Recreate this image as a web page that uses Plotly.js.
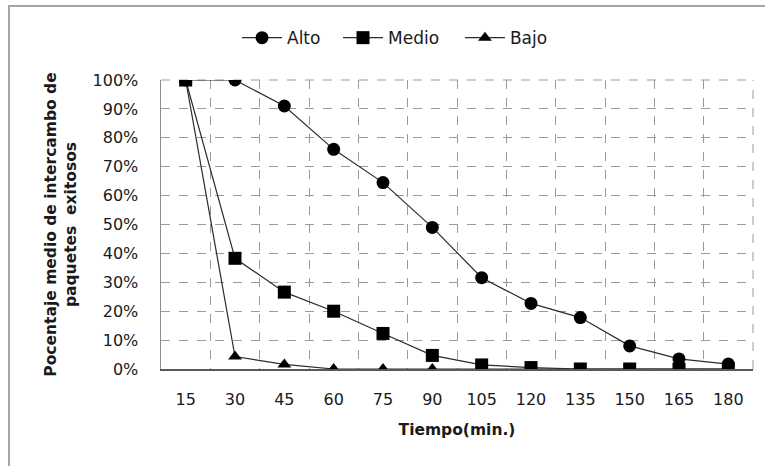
<!DOCTYPE html>
<html>
<head>
<meta charset="utf-8">
<script src="https://cdn.plot.ly/plotly-3.0.1.min.js"></script>
<style>
  html, body { margin: 0; padding: 0; background: #fff; overflow: hidden; }
  #frame { position: absolute; left: 8px; top: 5px; width: 800px; height: 500px;
           border-left: 2px solid #a6a6a6; border-top: 2px solid #a6a6a6; }
  #chart { position: absolute; left: 0; top: 0; width: 765px; height: 466px; }
</style>
</head>
<body>
<div id="frame"></div>
<div id="chart"></div>
<script>
const categories = ["15","30","45","60","75","90","105","120","135","150","165","180"];
const alto  = [1.00, 1.00, 0.91, 0.76, 0.645, 0.49, 0.316, 0.227, 0.178, 0.08, 0.035, 0.017];
const medio = [1.00, 0.383, 0.266, 0.20, 0.123, 0.047, 0.014, 0.005, 0, 0, 0, 0];
const bajo  = [1.00, 0.043, 0.016, 0, 0, 0, 0, 0, 0, 0, 0, 0];
const seriesNames = ["Alto", "Medio", "Bajo"];
const yTickVals = [0, 0.1, 0.2, 0.3, 0.4, 0.5, 0.6, 0.7, 0.8, 0.9, 1.0];
const yTickText = ["0%","10%","20%","30%","40%","50%","60%","70%","80%","90%","100%"];

const lineStyle = {color: "#2b2b2b", width: 1.2};
const traces = [
  {x: categories, y: alto, name: seriesNames[0], legend: "legend", type: "scatter", mode: "lines+markers",
   line: lineStyle, marker: {symbol: "circle", size: 13, color: "#000"}},
  {x: categories, y: bajo, name: seriesNames[2], legend: "legend3", type: "scatter", mode: "lines+markers",
   line: lineStyle, marker: {symbol: "triangle-up", size: 12, color: "#000"}},
  {x: categories, y: medio, name: seriesNames[1], legend: "legend2", type: "scatter", mode: "lines+markers",
   line: lineStyle, marker: {symbol: "square", size: 13, color: "#000"}}
];

const font = {family: "'DejaVu Sans', sans-serif", color: "#1a1a1a"};
function legendAt(x) {
  return {orientation: "h", x: x, xanchor: "left", y: 1.145, yanchor: "middle",
          itemwidth: 40, font: Object.assign({size: 17}, font), bgcolor: "rgba(0,0,0,0)"};
}
const gridStyle = {color: "#9a9a9a", width: 1, dash: "dash"};
const layout = {
  width: 765, height: 466,
  margin: {l: 161, r: 12, t: 80, b: 97},
  paper_bgcolor: "rgba(0,0,0,0)",
  plot_bgcolor: "#fff",
  font: Object.assign({size: 16}, font),
  showlegend: true,
  legend: legendAt(0.1284),
  legend2: legendAt(0.299),
  legend3: legendAt(0.505),
  shapes: [
    {type: "line", xref: "paper", yref: "paper", x0: 0, x1: 1, y0: 1, y1: 1, line: gridStyle, layer: "below"},
    {type: "line", xref: "paper", yref: "paper", x0: 1, x1: 1, y0: 0, y1: 1, line: gridStyle, layer: "below"}
  ],
  xaxis: {
    type: "category", range: [-0.5, 11.5], tickson: "boundaries",
    showgrid: true, gridcolor: "#9a9a9a", griddash: "dash", gridwidth: 1,
    showline: true, linecolor: "#595959", linewidth: 1.5,
    ticks: "", ticklabelstandoff: 15,
    tickfont: Object.assign({size: 16}, font),
    title: {text: "<b>Tiempo(min.)</b>", font: Object.assign({size: 15.5}, font), standoff: 16}
  },
  yaxis: {
    range: [0, 1.0], tickvals: yTickVals, ticktext: yTickText,
    showgrid: true, gridcolor: "#9a9a9a", griddash: "dash", gridwidth: 1,
    zeroline: true, zerolinecolor: "#595959", zerolinewidth: 1.5,
    showline: true, linecolor: "#8c8c8c", linewidth: 1.5,
    ticks: "", ticklabelstandoff: 18,
    tickfont: Object.assign({size: 16}, font),
    title: {text: "<b>Pocentaje medio de intercambo de</b><br><b>paquetes  exitosos</b>",
            font: Object.assign({size: 15.5}, font), standoff: 12}
  }
};

Plotly.newPlot("chart", traces, layout, {displayModeBar: false, staticPlot: true});
</script>
</body>
</html>
